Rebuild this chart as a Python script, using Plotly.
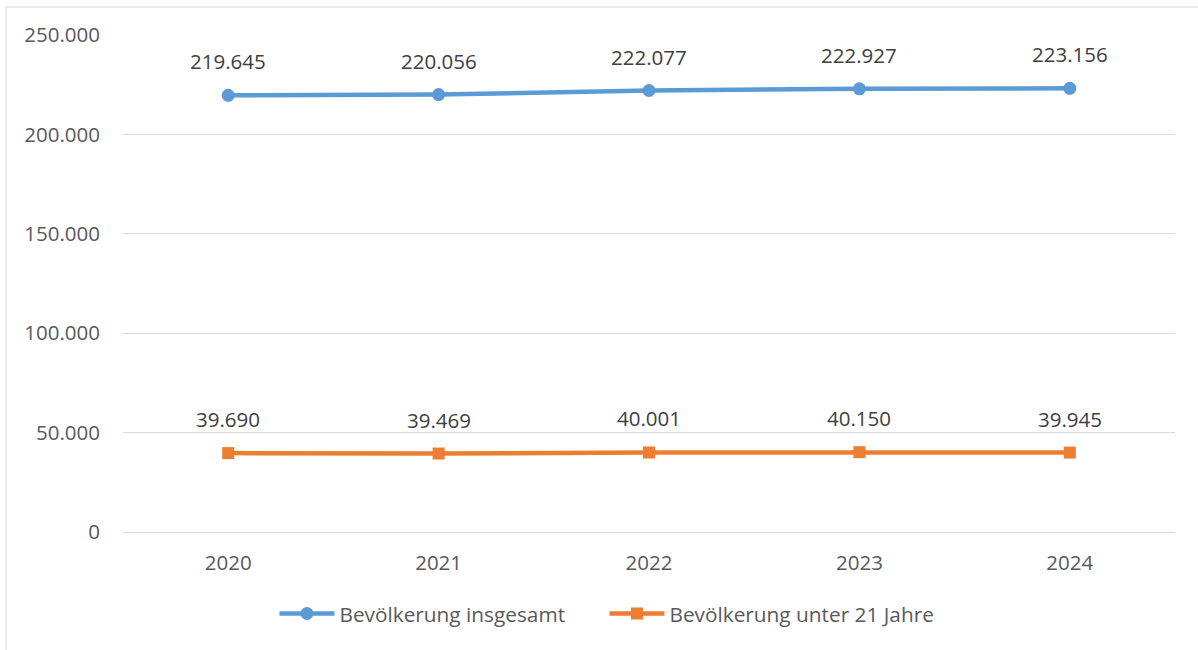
import plotly.graph_objects as go

# Bevölkerungsentwicklung 2020-2024
jahre = ['2020', '2021', '2022', '2023', '2024']
insgesamt = [219645, 220056, 222077, 222927, 223156]
unter_21 = [39690, 39469, 40001, 40150, 39945]

y_ticks = [0, 50000, 100000, 150000, 200000, 250000]
y_tick_labels = ['0', '50.000', '100.000', '150.000', '200.000', '250.000']

BLUE = '#5B9BD5'
ORANGE = '#ED7D31'
GREY_TEXT = '#595959'
FONT = 'Open Sans, Noto Sans, sans-serif'


def fmt(v):
    return f'{v:,}'.replace(',', '.')


fig = go.Figure()

fig.add_trace(go.Scatter(
    x=jahre, y=insgesamt,
    mode='lines+markers',
    name='Bevölkerung insgesamt',
    line=dict(color=BLUE, width=4.5),
    marker=dict(symbol='circle', size=13, color=BLUE)
))

fig.add_trace(go.Scatter(
    x=jahre, y=unter_21,
    mode='lines+markers',
    name='Bevölkerung unter 21 Jahre',
    line=dict(color=ORANGE, width=4.5),
    marker=dict(symbol='square', size=12, color=ORANGE)
))

# data labels above the points (category axis -> use index for x)
annotations = []
for series in (insgesamt, unter_21):
    for i, wert in enumerate(series):
        annotations.append(dict(
            x=i, y=wert, text=fmt(wert),
            showarrow=False, yshift=34,
            font=dict(size=20.5, color='#404040', family=FONT)
        ))

fig.update_layout(
    width=1198, height=650,
    margin=dict(l=123, r=23, t=35, b=118),
    paper_bgcolor='white',
    plot_bgcolor='white',
    font=dict(family=FONT, size=20.5, color=GREY_TEXT),
    showlegend=True,
    legend=dict(
        orientation='h',
        x=0.144, xanchor='left',
        y=-0.165, yanchor='middle',
        font=dict(size=20.8, color=GREY_TEXT),
        entrywidth=260,
        itemwidth=55,
    ),
    annotations=annotations,
    shapes=[dict(
        type='rect', xref='paper', yref='paper',
        x0=-0.1112, x1=1.2, y0=-0.4, y1=1.0563,
        line=dict(color='#D9D9D9', width=1), layer='below'
    )],
)

fig.update_xaxes(
    type='category',
    range=[-0.5, len(jahre) - 0.5],
    showgrid=False,
    showline=True, linecolor='#D9D9D9', linewidth=1,
    ticks='', ticklabelstandoff=12,
    tickfont=dict(size=20.5, color=GREY_TEXT),
)

fig.update_yaxes(
    range=[0, 250000],
    tickvals=y_ticks, ticktext=y_tick_labels,
    showgrid=True, gridcolor='#D9D9D9', gridwidth=1,
    zeroline=False, showline=False,
    ticks='', ticklabelstandoff=22,
    tickfont=dict(size=20.5, color=GREY_TEXT),
)

# the page body has a default margin; remove it so the figure sits at 0,0
fig.write_html("out.html", config={'displayModeBar': False},
               post_script="document.body.style.margin='0';")
